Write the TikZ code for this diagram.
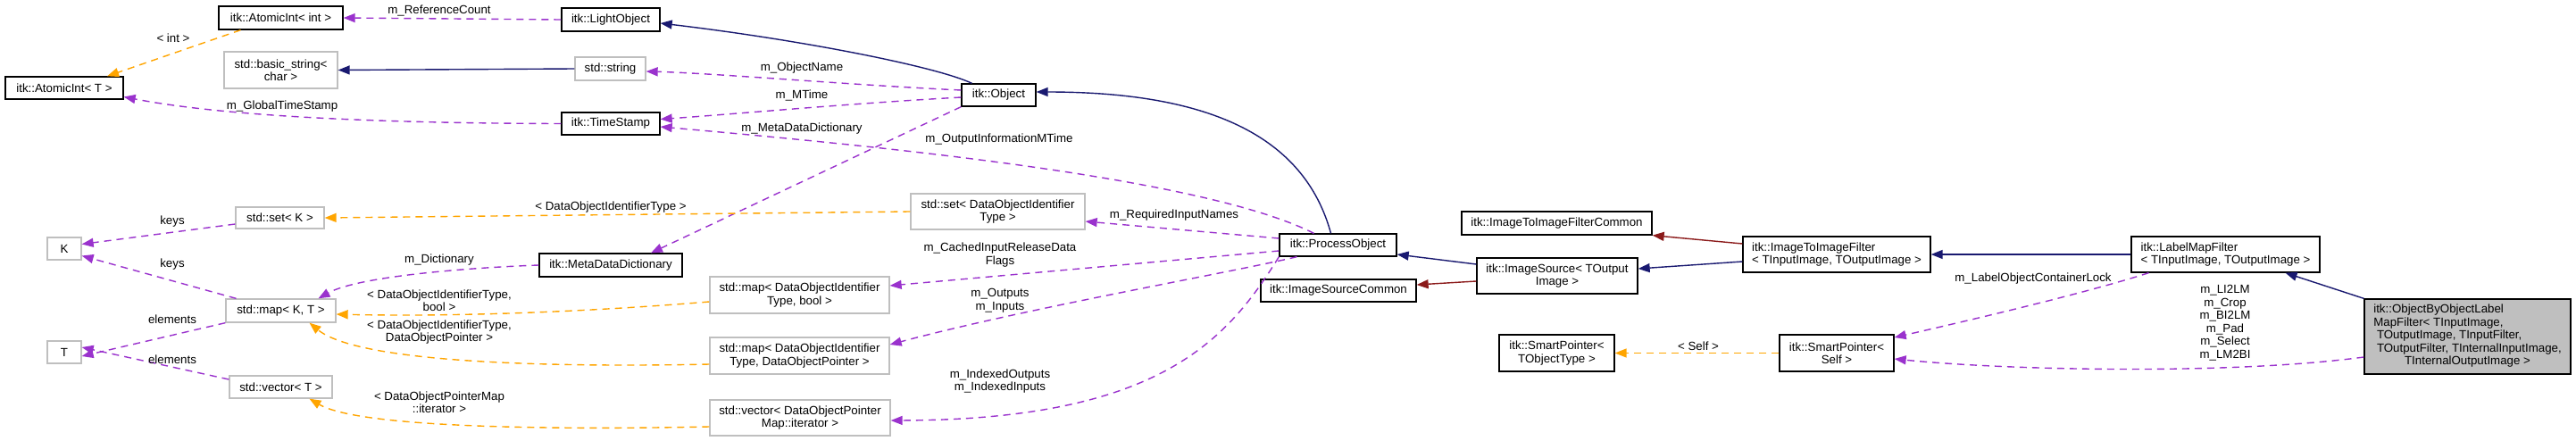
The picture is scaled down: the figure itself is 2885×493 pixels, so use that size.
\documentclass[tikz,border=0pt]{standalone}
\usepackage{fontspec}
\setmainfont{Liberation Sans}
\usetikzlibrary{arrows.meta}
\definecolor{navy}{HTML}{191970}
\definecolor{dred}{HTML}{8B1A1A}
\definecolor{purp}{HTML}{9A32CD}
\definecolor{orng}{HTML}{FFA500}
\definecolor{gborder}{HTML}{BFBFBF}
\definecolor{gfill}{HTML}{BFBFBF}
\begin{document}
\begin{tikzpicture}[x=1pt,y=-1pt,
  every node/.style={font=\fontsize{13.3}{14.5}\selectfont, inner sep=0pt},
  sz/.style 2 args={minimum width=#1pt, minimum height=#2pt},
  cls/.style={draw=black, line width=1.3pt, fill=white},
  ext/.style={draw=gborder, line width=1.3pt, fill=white},
  cur/.style={draw=black, line width=1.3pt, fill=gfill},
  lbl/.style={align=center},
  tipd/.style={-{Triangle[length=13pt,width=10pt]}},
  inh/.style={tipd, draw=navy, line width=1.4pt},
  pinh/.style={tipd, draw=dred, line width=1.4pt},
  member/.style={tipd, draw=purp, line width=1.4pt, dash pattern=on 8pt off 6pt},
  tmpl/.style={tipd, draw=orng, line width=1.4pt, dash pattern=on 8pt off 6pt}
]
\fill[white] (0,0) rectangle (2885,493);
\useasboundingbox (0,0) rectangle (2885,493);

% ---------- nodes ----------
\node[cls, sz={139}{26}] (aintint) at (314.5,20) {itk::AtomicInt< int >};
\node[cls, sz={110}{26}] (light) at (684,22) {itk::LightObject};
\node[ext, sz={127}{41}, align=center] (bstr) at (314.5,78.5) {std::basic\_string<\\char >};
\node[ext, sz={79}{26}] (str) at (683.5,77) {std::string};
\node[cls, sz={132}{25}] (aintT) at (72,98.5) {itk::AtomicInt< T >};
\node[cls, sz={110}{25}] (tstamp) at (684,138.5) {itk::TimeStamp};
\node[cls, sz={83}{25}] (object) at (1118.5,106.5) {itk::Object};
\node[ext, sz={99}{24}] (setK) at (313.5,244) {std::set< K >};
\node[ext, sz={38}{25}] (K) at (72,278.5) {K};
\node[cls, sz={160}{26}] (mdd) at (684,297) {itk::MetaDataDictionary};
\node[ext, sz={123}{26}] (mapKT) at (314.5,348) {std::map< K, T >};
\node[ext, sz={38}{25}] (T) at (72,394.5) {T};
\node[ext, sz={115}{25}] (vecT) at (314.5,433.5) {std::vector< T >};
\node[ext, sz={195}{40}, align=center] (setDOI) at (1117.5,237) {std::set< DataObjectIdentifier\\Type >};
\node[ext, sz={201}{41}, align=center] (mapBool) at (895.5,330.5) {std::map< DataObjectIdentifier\\Type, bool >};
\node[ext, sz={201}{41}, align=center] (mapDOP) at (895.5,398.5) {std::map< DataObjectIdentifier\\Type, DataObjectPointer >};
\node[ext, sz={202}{40}, align=center] (vecDOP) at (896,468) {std::vector< DataObjectPointer\\Map::iterator >};
\node[cls, sz={131}{25}] (po) at (1498.5,274.5) {itk::ProcessObject};
\node[cls, sz={174}{25}] (isc) at (1499,325.5) {itk::ImageSourceCommon};
\node[cls, sz={213}{26}] (i2ifc) at (1743.5,250) {itk::ImageToImageFilterCommon};
\node[cls, sz={180}{40}, align=center] (isrc) at (1744,309) {itk::ImageSource< TOutput\\Image >};
\node[cls, sz={210}{40}, align=left] (i2if) at (2057,285) {itk::ImageToImageFilter\\< TInputImage, TOutputImage >};
\node[cls, sz={129}{41}, align=center] (spT) at (1743.5,395.5) {itk::SmartPointer<\\TObjectType >};
\node[cls, sz={128}{41}, align=center] (spS) at (2057,395.5) {itk::SmartPointer<\\Self >};
\node[cls, sz={211}{40}, align=left] (lmf) at (2492.5,285) {itk::LabelMapFilter\\< TInputImage, TOutputImage >};
\node[cur, sz={231}{84}] (obo) at (2763.5,377) {\begin{tabular}{@{}l@{}}itk::ObjectByObjectLabel\\MapFilter< TInputImage,\\ \ TOutputImage, TInputFilter,\\ \ TOutputFilter, TInternalInputImage,\\\multicolumn{1}{@{}c@{}}{TInternalOutputImage >}\end{tabular}};

% ---------- connectors ----------
\draw[member] (light.west) -- (aintint.east);
\draw[tmpl] ([xshift=-45pt]aintint.south) -- ([xshift=48pt]aintT.north);
\draw[inh] (str.west) -- (bstr.east);
\draw[member] ([yshift=5.5pt]object.west) .. controls (950,95) and (800,82) .. ([yshift=-3pt]str.east);
\draw[member] ([yshift=-2.5pt]object.west) .. controls (950,116) and (820,128) .. ([yshift=5pt]tstamp.east);
\draw[member] (tstamp.west) .. controls (420,138) and (250,130) .. ([yshift=-10pt]aintT.east);
\draw[inh] ([xshift=-30pt]object.north) .. controls (1050,75) and (900,45) .. ([yshift=-4pt]light.east);
\draw[member] (object.south west) -- ([xshift=45pt]mdd.north);
\draw[member] ([xshift=-27pt]po.north) .. controls (1350,200) and (1000,165) .. ([yshift=-3.5pt]tstamp.east);
\draw[tmpl] (setDOI.west) -- (setK.east);
\draw[member] ([yshift=-7pt]setK.west) -- ([yshift=5pt]K.east);
\draw[member] ([xshift=-50pt]mapKT.north) -- ([yshift=-8pt]K.east);
\draw[member] (mdd.west) .. controls (520,300) and (400,310) .. ([xshift=42pt]mapKT.north);
\draw[tmpl] ([yshift=-7.5pt]mapBool.west) .. controls (650,350) and (500,355) .. ([yshift=-4pt]mapKT.east);
\draw[tmpl] ([yshift=-9.5pt]mapDOP.west) .. controls (600,412) and (400,405) .. ([xshift=32pt]mapKT.south);
\draw[member] (mapKT.south west) -- ([yshift=-4.5pt]T.east);
\draw[member] ([yshift=8.5pt]vecT.west) -- ([yshift=5.5pt]T.east);
\draw[tmpl] ([yshift=-10pt]vecDOP.west) .. controls (600,482) and (400,478) .. ([xshift=32pt]vecT.south);
\draw[member] ([yshift=7.5pt]po.west) -- ([yshift=-11pt]setDOI.east);
\draw[member] ([yshift=-6.5pt]po.west) -- ([yshift=10.5pt]mapBool.east);
\draw[member] ([xshift=-46pt]po.south) .. controls (1380,305) and (1150,345) .. ([yshift=12.5pt]mapDOP.east);
\draw[member] (po.south west) .. controls (1375,380) and (1300,470) .. ([yshift=-3pt]vecDOP.east);
\draw[inh] ([xshift=-8pt]po.north) .. controls (1460,150) and (1350,103) .. ([yshift=3.5pt]object.east);
\draw[inh] ([yshift=13pt]isrc.west) -- ([yshift=-10.5pt]po.east);
\draw[pinh] ([yshift=-6pt]isrc.west) -- ([yshift=6.5pt]isc.east);
\draw[pinh] ([yshift=12pt]i2if.west) -- (i2ifc.south east);
\draw[inh] ([yshift=-8pt]i2if.west) -- ([yshift=8pt]isrc.east);
\draw[inh] (lmf.west) -- (i2if.east);
\draw[inh] (obo.north west) -- ([xshift=67pt]lmf.south);
\draw[tmpl] (spS.west) -- (spT.east);
\draw[member] ([xshift=-86pt]lmf.south) .. controls (2330,330) and (2200,360) .. ([yshift=17.5pt]spS.east);
\draw[member] ([yshift=-23pt]obo.west) .. controls (2500,420) and (2250,415) .. ([yshift=-6.5pt]spS.east);

% ---------- labels ----------
\node[lbl] (l1) at (492,12) {m\_ReferenceCount};
\node[lbl] (l2) at (194,43) {< int >};
\node[lbl] (l3) at (316,119) {m\_GlobalTimeStamp};
\node[lbl] (l4) at (684,232) {< DataObjectIdentifierType >};
\node[lbl] (l5) at (193,248) {keys};
\node[lbl] (l6) at (193,296) {keys};
\node[lbl] (l7) at (492,291) {m\_Dictionary};
\node[lbl] (l8) at (193,358) {elements};
\node[lbl] (l9) at (193,403) {elements};
\node[lbl] (l10) at (898,76) {m\_ObjectName};
\node[lbl] (l11) at (898,107) {m\_MTime};
\node[lbl] (l12) at (898,144) {m\_MetaDataDictionary};
\node[lbl] (l13) at (1119,156) {m\_OutputInformationMTime};
\node[lbl] (l14) at (1315,241) {m\_RequiredInputNames};
\node[lbl] (l15) at (1120,285.5) {m\_CachedInputReleaseData\\Flags};
\node[lbl] (l16) at (1120,336.5) {m\_Outputs\\m\_Inputs};
\node[lbl] (l17) at (1120,427) {m\_IndexedOutputs\\m\_IndexedInputs};
\node[lbl] (l18) at (492,336.5) {< DataObjectIdentifierType,\\bool >};
\node[lbl] (l19) at (492,372) {< DataObjectIdentifierType,\\DataObjectPointer >};
\node[lbl] (l20) at (492,450.5) {< DataObjectPointerMap\\::iterator >};
\node[lbl] (l21) at (1902,388) {< Self >};
\node[lbl] (l22) at (2277,312) {m\_LabelObjectContainerLock};
\node[lbl] (l23) at (2492,361.5) {m\_LI2LM\\m\_Crop\\m\_BI2LM\\m\_Pad\\m\_Select\\m\_LM2BI};
\end{tikzpicture}
\end{document}
